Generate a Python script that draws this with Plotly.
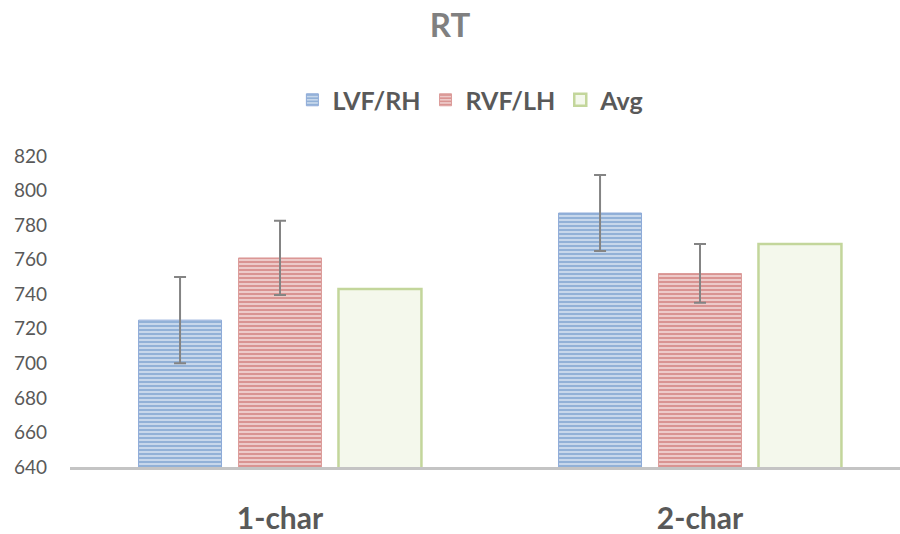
import plotly.graph_objects as go

# data
categories = ["1-char", "2-char"]
lvf_rh = [725, 787]
lvf_rh_err = [25, 22]
rvf_lh = [761, 752]
rvf_lh_err = [21.5, 17]
avg = [743, 769]

FONT = "Lato"

fig = go.Figure()
fig.add_trace(go.Bar(
    name="<b>LVF/RH</b>", x=categories, y=lvf_rh,
    error_y=dict(type="data", array=lvf_rh_err, color="#848484", thickness=2, width=6),
    marker=dict(color="#dbe5f1", line=dict(color="#8eaad8", width=1),
                pattern=dict(shape="-", fgcolor="#4f81bd", bgcolor="#d5e1f0", size=4, solidity=0.6)),
))
fig.add_trace(go.Bar(
    name="<b>RVF/LH</b>", x=categories, y=rvf_lh,
    error_y=dict(type="data", array=rvf_lh_err, color="#848484", thickness=2, width=6),
    marker=dict(color="#f2dcdb", line=dict(color="#dc9c9a", width=1),
                pattern=dict(shape="-", fgcolor="#c0504d", bgcolor="#f2d8d7", size=4, solidity=0.6)),
))
fig.add_trace(go.Bar(
    name="<b>Avg</b>", x=categories, y=avg,
    marker=dict(color="#f4f8ec", line=dict(color="#c3d69b", width=2.5)),
))

fig.update_layout(
    width=900, height=534,
    paper_bgcolor="white", plot_bgcolor="white",
    margin=dict(l=70, r=0, t=156, b=67),
    barmode="group", bargap=0.286, bargroupgap=0.17,
    title=dict(text="<b>RT</b>", x=0.5, xanchor="center", y=0.953, yanchor="middle",
               font=dict(family=FONT, size=33, color="#808080")),
    legend=dict(orientation="h", x=0.483, xanchor="center", y=1.18, yanchor="middle",
                font=dict(family=FONT, size=25, color="#595959"),
                itemwidth=30, traceorder="normal"),
    showlegend=True,
)
fig.update_xaxes(
    range=[-0.5, -0.5 + 830 / 420], automargin=False,
    showline=True, linecolor="#c4c4c4", linewidth=3,
    showgrid=False, ticks="", ticklabelstandoff=23,
    tickfont=dict(family=FONT, size=30, color="#595959"),
    tickprefix="<b>", ticksuffix="</b>",
)
fig.update_yaxes(
    range=[640, 820], dtick=20, showgrid=False, zeroline=False, showline=False,
    ticks="", ticklabelstandoff=22, automargin=False,
    tickfont=dict(family=FONT, size=19, color="#595959"),
)

# page body has an 8px default margin; drop it so the figure fills the window
fig.write_html("out.html", config={"displayModeBar": False},
               post_script="document.body.style.margin='0';")
